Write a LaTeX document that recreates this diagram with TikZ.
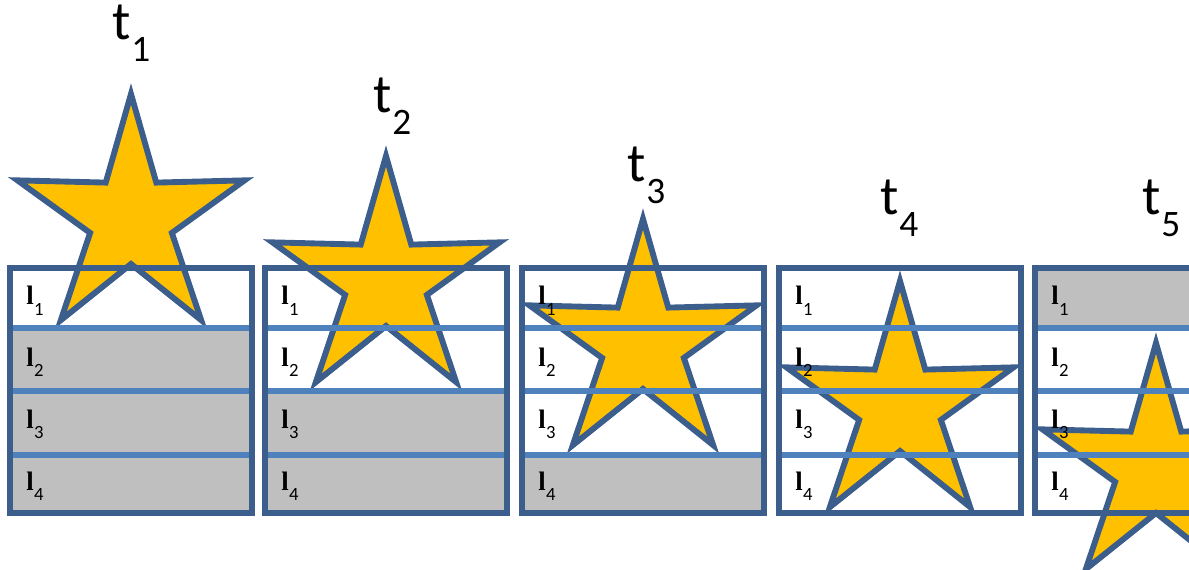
\documentclass[tikz,border=0pt]{standalone}
\usepackage{fontspec}
\newfontfamily\calfont{Carlito}
\newfontfamily\tnrfont{Liberation Serif}
\definecolor{bord}{HTML}{3B5E8C}
\definecolor{rowline}{HTML}{4F81BD}
\definecolor{starfill}{HTML}{FFC000}
\definecolor{graycell}{HTML}{BFBFBF}
\tikzset{
  boxborder/.style={draw=bord, line width=4.2pt},
  rowsep/.style={draw=rowline, line width=4pt},
  starshape/.style={fill=starfill, draw=bord, line width=4.4pt, line join=miter},
  grayrow/.style={fill=graycell, draw=none},
  tlabel/.style={anchor=base west, inner sep=0pt, font=\calfont\fontsize{41}{41}\selectfont},
  llabel/.style={anchor=base west, inner sep=0pt, font=\tnrfont\bfseries\fontsize{20}{20}\selectfont},
}
\newcommand\tsubtext[1]{t\kern0.6pt\raisebox{-16pt}{\fontsize{28}{28}\selectfont #1}}
\newcommand\lsubtext[1]{l\kern0.3pt\raisebox{-8pt}{\calfont\mdseries\fontsize{14}{14}\selectfont #1}}
\begin{document}
\begin{tikzpicture}[x=0.75pt,y=-0.75pt]
\useasboundingbox (0,0) rectangle (1189,570);
\clip (0,0) rectangle (1189,570);
% gray cells
\fill[grayrow] (10,328) rectangle (252,513);
\fill[grayrow] (265,391) rectangle (507,513);
\fill[grayrow] (522,455) rectangle (764,513);
\fill[grayrow] (1035,268) rectangle (1277,328);
\foreach \i/\L/\sy/\tx/\ty in {1/10/219/112/40, 2/265/281/373/113, 3/522/344/627/182, 4/779/406/880/215, 5/1035/468/1142/215}{
  \pgfmathsetmacro\cx{\L+121}
  % star
  \begin{scope}[shift={(\cx,\sy)}, xscale=0.955]
    \draw[starshape] (270:125) -- (306:45) -- (342:125) -- (18:45) -- (54:125) -- (90:45) -- (126:125) -- (162:45) -- (198:125) -- (234:45) -- cycle;
  \end{scope}
  % row separators
  \foreach \ry in {328,391,455}{
    \draw[rowsep] (\L+1,\ry) -- (\L+241,\ry);
  }
  % box
  \draw[boxborder] (\L,268) rectangle (\L+242,513);
  % labels
  \node[tlabel] (t\i) at (\tx,\ty) {\tsubtext{\i}};
  \foreach \k/\by in {1/305,2/366,3/428,4/490}{
    \node[llabel] (l\i\k) at (\L+16,\by) {\lsubtext{\k}};
  }
}
\end{tikzpicture}
\end{document}
